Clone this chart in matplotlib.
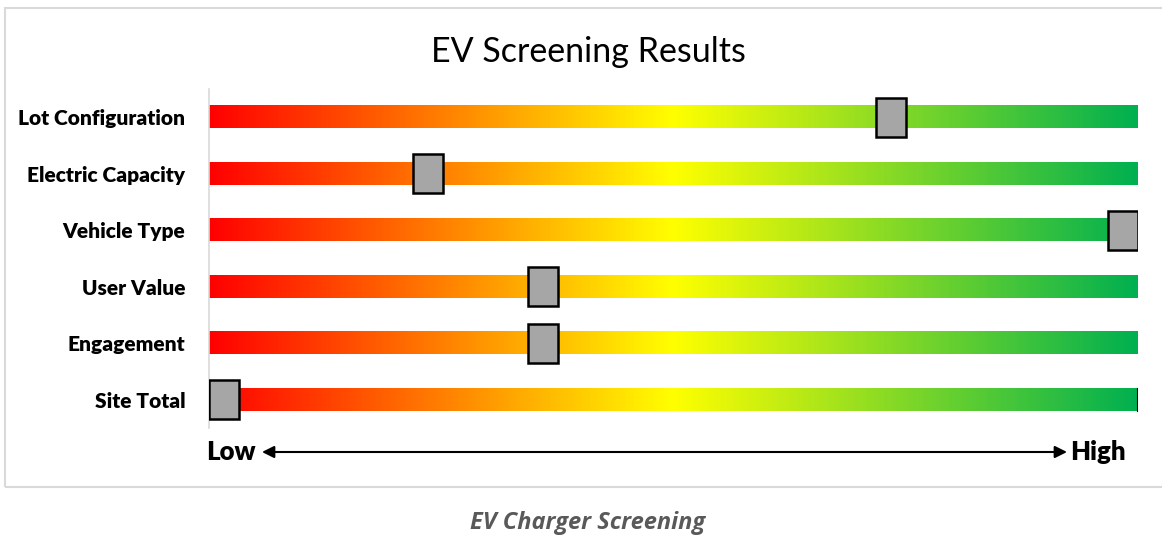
import numpy as np
import matplotlib
matplotlib.use("Agg")
import matplotlib.pyplot as plt
from matplotlib.colors import LinearSegmentedColormap
from matplotlib.patches import Rectangle

# data
categories = ["Lot Configuration", "Electric Capacity", "Vehicle Type",
              "User Value", "Engagement", "Site Total"]
scores = [0.742, 0.227, 1.0, 0.355, 0.355, 0.0]   # 0 = low, 1 = high
gradient_colors = ["#FF0000", "#FFFF00", "#00B050"]

plt.rcParams["font.family"] = ["Lato", "DejaVu Sans"]

fig = plt.figure(figsize=(11.62, 5.36), dpi=100)
W, H = 1162, 536

# light frame around the chart area
fig.patches.append(Rectangle((5 / W, 1 - 487 / H), 1.2, (487 - 8) / H,
                             transform=fig.transFigure, fill=False,
                             edgecolor="#D9D9D9", linewidth=1.5))

ax = fig.add_axes([209 / W, 1 - 428 / H, (1138 - 209) / W, 339 / H])
cmap = LinearSegmentedColormap.from_list("ryg", gradient_colors)
grad = np.linspace(0, 1, 512).reshape(1, -1)

bar_h = 0.39
mark_h = 0.69
mark_w = 3.2
for i, (cat, s) in enumerate(zip(categories, scores)):
    ax.imshow(grad, cmap=cmap, aspect="auto",
              extent=(0, 100, i + bar_h / 2, i - bar_h / 2), zorder=1)
    x0 = s * (100 - mark_w)
    ax.add_patch(Rectangle((x0, i - mark_h / 2), mark_w, mark_h,
                           facecolor="#A6A6A6", edgecolor="black",
                           linewidth=1.8, zorder=3))
# small end tick on the total bar
ax.plot([100, 100], [5 - bar_h / 2, 5 + bar_h / 2], color="black", lw=1.5, zorder=2)

ax.set_xlim(0, 100)
ax.set_ylim(5.5, -0.5)
ax.set_yticks(range(len(categories)))
ax.set_yticklabels(categories, fontsize=15, fontweight="heavy")
ax.tick_params(axis="y", length=0, pad=17)
ax.set_xticks([])
for side in ["top", "right", "bottom"]:
    ax.spines[side].set_visible(False)
ax.spines["left"].set_color("#D9D9D9")
ax.spines["left"].set_linewidth(1.2)

fig.text(588 / W, 1 - 52 / H, "EV Screening Results", ha="center", va="center",
         fontsize=24.5, color="black")

# low / high scale
y_arrow = 1 - 452 / H
fig.text(206 / W, y_arrow, "Low", ha="left", va="center", fontsize=18.5, fontweight="heavy")
fig.text(1126 / W, y_arrow, "High", ha="right", va="center", fontsize=18.5, fontweight="heavy")
ax.annotate("", xy=(1067 / W, y_arrow), xytext=(262 / W, y_arrow),
            xycoords="figure fraction", textcoords="figure fraction",
            arrowprops=dict(arrowstyle="<|-|>", color="black", lw=1.5,
                            mutation_scale=18, shrinkA=0, shrinkB=0))

fig.text(588 / W, 1 - 523 / H, "EV Charger Screening", ha="center", va="center",
         fontsize=17, fontstyle="italic", fontweight="bold", color="#595959",
         family=["Open Sans", "DejaVu Sans"])

fig.savefig("out.png", dpi=100)
